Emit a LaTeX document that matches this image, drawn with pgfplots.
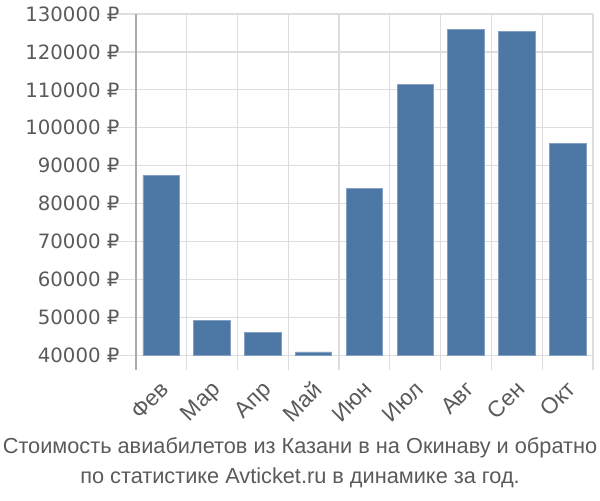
\documentclass[border=0pt]{standalone}
\usepackage{pgfplots}
\pgfplotsset{compat=1.18}
\usepackage{fontspec}
\setmainfont{Liberation Sans}
\newfontfamily\tickfont{DejaVu Sans}
\definecolor{barblue}{HTML}{4D78A6}
\definecolor{gridgray}{HTML}{DDDDDD}
\definecolor{axisgray}{HTML}{AAAAAA}
\definecolor{txtgray}{HTML}{5A5A5A}
\begin{document}
\begin{tikzpicture}
\useasboundingbox (-101.8pt,-108.5pt) rectangle (348.2pt,266.5pt);
\begin{axis}[
  scale only axis,
  width=343pt, height=256pt,
  xmin=-0.5, xmax=8.5,
  ymin=40000, ymax=130000,
  ytick={40000,50000,...,130000},
  xtick={-0.5,0.5,...,8.5},
  xticklabels={,,,,,,,,,},
  extra x ticks={0,...,8},
  extra x tick labels={Фев,Мар,Апр,Май,Июн,Июл,Авг,Сен,Окт},
  extra x tick style={grid=none, tick style={draw=none},
     xticklabel style={rotate=45, anchor=north east, inner sep=1pt, xshift=-5pt, yshift=-3pt,
       font=\fontsize{17pt}{19pt}\selectfont}},
  xmajorgrids=true, ymajorgrids=true,
  grid style={gridgray, line width=0.9pt},
  axis line style={draw=none},
  tick align=outside,
  tick pos=left,
  major tick length=11pt,
  tick style={gridgray, line width=0.9pt},
  ytick style={/pgfplots/major tick length=14pt},
  scaled y ticks=false,
  yticklabel={\pgfmathprintnumber[fixed,precision=0,1000 sep={}]{\tick}~₽},
  /pgf/number format/assume math mode=true,
  ticklabel style={font=\tickfont\fontsize{14.8pt}{17pt}\selectfont, text=txtgray},
  yticklabel style={inner sep=1pt},
  clip=false,
]
\addplot[ybar, bar width=27.3pt, fill=barblue, draw=barblue!70!white, line width=0.5pt, bar shift=0pt]
  coordinates {(0,87400) (1,49100) (2,46100) (3,40900) (4,84000) (5,111500) (6,126000) (7,125500) (8,95900)};
\draw[axisgray, line width=1.5pt] (axis cs:-0.5,130000) -- (axis cs:-0.5,40000) -- ++(0pt,-11pt);
\end{axis}
\node[text=txtgray, font=\fontsize{16.3pt}{19pt}\selectfont, anchor=base] at (123.2pt,-73.3pt)
  {Стоимость авиабилетов из Казани в на Окинаву и обратно};
\node[text=txtgray, font=\fontsize{16.3pt}{19pt}\selectfont, anchor=base] at (123.2pt,-95.8pt)
  {по статистике Avticket.ru в динамике за год.};
\end{tikzpicture}
\end{document}
